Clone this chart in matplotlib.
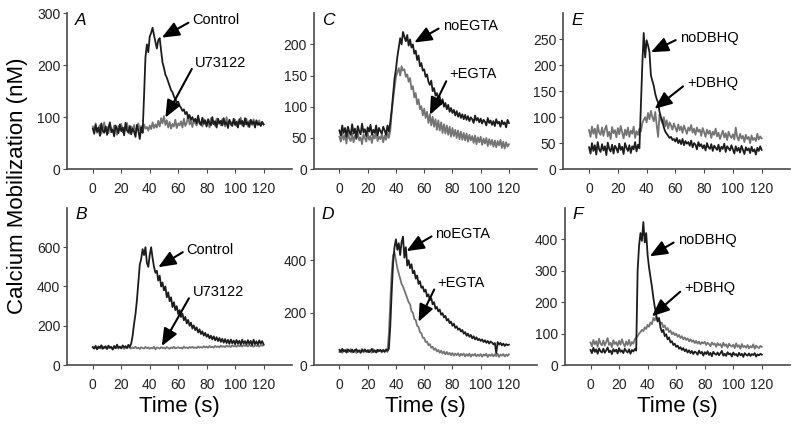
import numpy as np
import matplotlib
matplotlib.use("Agg")
import matplotlib.pyplot as plt

plt.rcParams['font.family'] = ['Liberation Sans', 'DejaVu Sans']

# time axis (s), one sample per second
t = np.arange(0, 121)

# ---- panel A ----
a_control = [78, 68, 85, 72, 80, 64, 88, 74, 70, 82,
             66, 79, 90, 71, 76, 63, 84, 77, 69, 86,
             73, 80, 65, 89, 75, 70, 83, 67, 78, 72,
             62, 85, 74, 58, 80, 70,
             140, 215, 240, 225, 255, 262, 272, 258, 245, 232, 248, 252, 228, 205,
             195, 182, 176, 168, 160, 152, 148, 140, 135, 128,
             130, 122, 118, 112, 115, 106, 110, 98, 104, 95,
             100, 92, 97, 88, 103, 90, 85, 99, 87, 94,
             82, 96, 89, 84, 100, 86, 92, 80, 97, 88,
             93, 84, 98, 86, 90, 79, 95, 88, 83, 97,
             85, 91, 80, 96, 87, 93, 82, 98, 86, 90,
             81, 95, 87, 92, 80, 94, 85, 89, 83, 91, 86]
a_u73122 = [82, 74, 88, 70, 79, 85, 68, 77, 90, 73,
            81, 69, 86, 76, 72, 84, 78, 66, 83, 75,
            87, 71, 80, 74, 89, 77, 68, 82, 76, 85,
            72, 79, 88, 75, 83, 70, 86, 78, 81, 74,
            84, 77, 90, 79, 86, 80, 93, 82, 98, 88,
            102, 85, 94, 80, 91, 78, 87, 82, 95, 79,
            88, 84, 92, 80, 97, 83, 89, 105, 86, 93,
            81, 95, 88, 84, 99, 87, 91, 82, 96, 89,
            85, 93, 80, 98, 88, 92, 83, 97, 87, 90,
            84, 96, 89, 82, 100, 86, 93, 85, 91, 88,
            95, 83, 92, 87, 99, 84, 90, 86, 97, 82,
            93, 88, 85, 96, 83, 91, 87, 94, 84, 90, 86]

# ---- panel B ----
b_control = [92, 84, 98, 80, 95, 87, 101, 83, 90, 96,
             82, 99, 88, 93, 79, 97, 86, 104, 89, 94,
             85, 100, 91, 96, 88, 103, 92, 110,
             150, 210, 260, 330, 420, 510, 540, 590, 560, 600, 520, 500,
             560, 600, 545, 500, 470, 480, 430, 455, 400, 420,
             380, 400, 345, 370, 325, 345, 295, 320, 280, 300,
             260, 280, 245, 262, 228, 245, 212, 230, 200, 216,
             186, 202, 178, 192, 166, 182, 158, 172, 150, 164,
             144, 156, 136, 150, 131, 146, 126, 142, 122, 138,
             118, 134, 114, 132, 112, 128, 108, 130, 111, 125,
             106, 128, 109, 124, 104, 129, 110, 122, 105, 127,
             108, 123, 102, 129, 107, 121, 104, 126, 109, 122, 106]
b_u73122 = [90, 85, 93, 82, 88, 91, 84, 95, 86, 89,
            83, 92, 87, 90, 81, 94, 86, 88, 84, 91,
            87, 93, 82, 89, 85, 92, 88, 84, 90, 86,
            93, 85, 89, 82, 91, 87, 84, 92, 86, 90,
            83, 88, 85, 93, 80, 90, 87, 84, 91, 86,
            89, 84, 92, 87, 83, 90, 86, 93, 85, 88,
            91, 86, 89, 84, 94, 87, 90, 85, 92, 88,
            93, 87, 90, 86, 95, 89, 92, 88, 96, 90,
            94, 88, 97, 91, 93, 89, 98, 92, 95, 90,
            99, 93, 96, 91, 100, 94, 97, 92, 101, 95,
            98, 93, 102, 96, 99, 94, 103, 97, 100, 95,
            104, 96, 99, 93, 102, 97, 100, 94, 103, 98, 101]

# ---- panel C ----
c_noegta = [62, 54, 70, 58, 66, 52, 68, 60, 55, 72,
            57, 65, 50, 69, 61, 56, 73, 59, 64, 53,
            67, 60, 71, 55, 63, 58, 70, 54, 66, 61,
            57, 68, 62, 55, 70, 60, 75,
            95, 120, 145, 160, 180, 195, 210, 200, 220, 212, 205, 215, 198,
            208, 195, 200, 185, 190, 175, 182, 165, 170, 158,
            160, 148, 152, 140, 135, 142, 125, 130, 118, 122,
            110, 116, 104, 112, 100, 106, 96, 103, 92, 98,
            90, 95, 86, 93, 84, 90, 82, 88, 80, 87,
            79, 85, 77, 83, 80, 74, 86, 78, 82, 75,
            81, 73, 79, 76, 70, 82, 74, 78, 71, 77,
            69, 80, 73, 76, 68, 78, 72, 75, 67, 79, 74]
c_egta = [52, 44, 58, 47, 55, 41, 60, 49, 45, 57,
          43, 54, 48, 59, 46, 51, 40, 56, 50, 44,
          58, 47, 53, 42, 55, 49, 61, 45, 52, 48,
          56, 43, 54, 47, 58, 50, 62,
          90, 112, 130, 148, 155, 162, 150, 165, 158, 160, 148, 152, 140,
          146, 128, 133, 115, 122, 104, 112, 96, 101, 86,
          97, 82, 92, 74, 88, 70, 84, 68, 80, 63,
          78, 62, 75, 58, 72, 57, 70, 55, 68, 52,
          66, 53, 63, 50, 62, 48, 60, 47, 58, 46,
          57, 44, 55, 46, 53, 42, 54, 40, 51, 43,
          52, 39, 49, 41, 50, 37, 48, 39, 47, 36,
          46, 35, 45, 38, 47, 34, 44, 33, 43, 36, 40]

# ---- panel D ----
d_noegta = [58, 50, 62, 52, 57, 48, 60, 54, 51, 59,
            49, 56, 61, 50, 55, 47, 58, 53, 60, 51,
            57, 49, 55, 62, 50, 56, 48, 59, 53, 58,
            52, 57, 50, 60, 55, 62,
            150, 280, 390, 450, 480, 440, 465, 420, 470, 490, 410, 450, 380, 400,
            370, 385, 350, 360, 330, 342, 310, 320, 295, 300,
            280, 288, 262, 270, 248, 255, 232, 240, 215, 222,
            205, 212, 192, 198, 182, 188, 170, 176, 160, 166,
            150, 158, 142, 148, 135, 140, 128, 134, 120, 126,
            112, 120, 108, 115, 102, 110, 98, 106, 95, 100,
            92, 98, 88, 95, 85, 92, 82, 90, 86, 79,
            84, 45, 88, 78, 85, 75, 82, 73, 80, 76, 78]
d_egta = [50, 56, 47, 58, 52, 60, 49, 55, 61, 48,
          54, 59, 46, 53, 57, 50, 62, 48, 55, 52,
          49, 58, 53, 47, 60, 51, 56, 50, 57, 54,
          48, 59, 52, 56, 50,
          120, 240, 350, 420, 430, 400, 370, 350, 330, 310, 300, 285, 270, 255, 240,
          232, 205, 200, 176, 172, 150, 146, 125, 122, 104,
          104, 88, 90, 76, 80, 66, 70, 58, 64, 52,
          58, 47, 55, 44, 52, 41, 50, 40, 47, 38,
          46, 36, 44, 38, 45, 34, 43, 37, 44, 33,
          42, 35, 44, 32, 41, 36, 43, 33, 40, 35,
          42, 32, 40, 36, 43, 31, 40, 35, 42, 33,
          41, 34, 43, 31, 40, 36, 42, 33, 40, 35, 41]

# ---- panel E ----
e_nodbhq = [42, 30, 50, 35, 46, 28, 52, 38, 33, 48,
            36, 44, 27, 51, 39, 34, 47, 30, 45, 40,
            32, 49, 37, 43, 29, 50, 41, 35, 46, 31,
            44, 38, 52, 34, 47, 40,
            120, 200, 262, 215, 248, 238, 225, 180, 170, 160, 145, 135, 128, 110,
            100, 92, 80, 72, 68, 64, 60, 62, 56, 58,
            53, 60, 50, 56, 48, 58, 46, 54, 49, 52,
            45, 55, 42, 50, 47, 38, 52, 44, 48, 40,
            46, 36, 50, 42, 39, 48, 35, 45, 41, 37,
            47, 34, 43, 39, 49, 33, 44, 40, 36, 46,
            38, 30, 44, 35, 41, 32, 45, 37, 29, 42,
            36, 40, 31, 43, 34, 38, 28, 41, 35, 44, 37]
e_dbhq = [75, 62, 82, 68, 78, 60, 85, 70, 66, 80,
          64, 77, 84, 63, 72, 58, 81, 69, 75, 61,
          79, 67, 83, 71, 59, 76, 65, 80, 62, 74,
          68, 82, 60, 73, 66, 78, 72,
          88, 95, 100, 90, 108, 96, 112, 100, 92, 110, 85, 62, 105,
          95, 88, 100, 82, 94, 78, 90, 84, 76, 88,
          80, 72, 86, 75, 82, 70, 84, 76, 68, 80,
          74, 85, 70, 78, 66, 80, 72, 76, 64, 79,
          71, 62, 76, 68, 74, 60, 72, 66, 78, 63,
          70, 58, 66, 74, 61, 69, 56, 72, 64, 60,
          67, 57, 80, 62, 55, 68, 59, 64, 52, 66,
          58, 62, 50, 65, 56, 60, 54, 68, 57, 63, 59]

# ---- panel F ----
f_nodbhq = [48, 38, 55, 42, 50, 36, 53, 44, 40, 52,
            39, 47, 56, 41, 46, 35, 51, 43, 49, 37,
            54, 42, 47, 38, 52, 45, 40, 50, 36, 48,
            43, 51, 46,
            300, 380, 420, 395, 455, 390, 420, 350, 310, 280, 250, 215, 185, 160, 140, 150, 120,
            105, 112, 92, 98, 82, 88, 72, 76, 64, 68,
            58, 62, 52, 57, 48, 54, 44, 50, 40, 47,
            38, 45, 35, 43, 40, 33, 46, 37, 42, 30,
            41, 35, 44, 32, 39, 28, 42, 36, 33, 40,
            31, 38, 45, 30, 36, 29, 41, 34, 37, 27,
            40, 32, 35, 28, 39, 31, 36, 26, 38, 33,
            30, 37, 29, 35, 32, 38, 27, 34, 31, 36, 33]
f_dbhq = [72, 60, 80, 66, 76, 58, 84, 68, 63, 78,
          62, 74, 86, 64, 71, 57, 79, 67, 73, 61,
          77, 65, 82, 69, 59, 75, 64, 80, 62, 73,
          68, 82, 88,
          92, 100, 105, 112, 108, 120, 115, 128, 122, 135, 130, 150, 142, 155, 138, 145, 130,
          135, 120, 126, 112, 118, 105, 110, 98, 104, 95,
          100, 90, 96, 86, 92, 82, 88, 80, 85, 76,
          82, 74, 79, 70, 77, 68, 75, 66, 73, 69,
          74, 64, 71, 67, 60, 72, 65, 69, 58, 70,
          63, 67, 56, 71, 61, 66, 55, 68, 62, 59,
          65, 54, 69, 58, 63, 52, 67, 57, 61, 55,
          64, 53, 60, 56, 66, 52, 62, 57, 54, 61, 58]

dark = '#1c1c1c'
grey = '#747474'
axis_col = '#4a4a4a'

# panel: letter, (dark trace, grey trace), ylim, yticks, labels (text, arrow tip, text pos)
panels = {
    'A': dict(pos=[0.084, 0.603, 0.281, 0.366], dark=a_control, grey=a_u73122,
              ylim=300, yticks=[0, 100, 200, 300],
              notes=[('Control', (48.5, 253), (70, 286)),
                     ('U73122', (51, 99), (72, 205))]),
    'B': dict(pos=[0.084, 0.143, 0.281, 0.369], dark=b_control, grey=b_u73122,
              ylim=800, yticks=[0, 200, 400, 600],
              notes=[('Control', (46, 498), (66, 587)),
                     ('U73122', (48.5, 97), (70, 371))]),
    'C': dict(pos=[0.3925, 0.603, 0.279, 0.366], dark=c_noegta, grey=c_egta,
              ylim=250, yticks=[0, 50, 100, 150, 200],
              notes=[('noEGTA', (53, 203), (73, 229)),
                     ('+EGTA', (64, 87), (78, 152))]),
    'D': dict(pos=[0.3925, 0.143, 0.279, 0.369], dark=d_noegta, grey=d_egta,
              ylim=600, yticks=[0, 200, 400],
              notes=[('noEGTA', (47.5, 435), (68, 500)),
                     ('+EGTA', (56, 165), (69.5, 315))]),
    'E': dict(pos=[0.704, 0.603, 0.284, 0.366], dark=e_nodbhq, grey=e_dbhq,
              ylim=300, yticks=[0, 50, 100, 150, 200, 250],
              notes=[('noDBHQ', (43, 225), (63, 252)),
                     ('+DBHQ', (45.5, 116), (68, 165))]),
    'F': dict(pos=[0.706, 0.143, 0.282, 0.369], dark=f_nodbhq, grey=f_dbhq,
              ylim=500, yticks=[0, 100, 200, 300, 400],
              notes=[('noDBHQ', (41.5, 346), (61, 397)),
                     ('+DBHQ', (43, 155), (65.5, 244))]),
}

fig = plt.figure(figsize=(8.0, 4.26), dpi=100)

for letter, p in panels.items():
    ax = fig.add_axes(p['pos'])
    ax.plot(t, p['grey'], color=grey, lw=1.3)
    ax.plot(t, p['dark'], color=dark, lw=1.3)

    ax.set_xlim(-18, 140)
    ax.set_ylim(0, p['ylim'])
    ax.set_xticks(range(0, 121, 20))
    ax.set_yticks(p['yticks'])

    for side in ('top', 'right'):
        ax.spines[side].set_visible(False)
    for side in ('left', 'bottom'):
        ax.spines[side].set_color(axis_col)
        ax.spines[side].set_linewidth(1.2)
    ax.tick_params(axis='x', direction='out', length=3, pad=6, labelsize=10,
                   color=axis_col, labelcolor='#222222')
    ax.tick_params(axis='y', direction='out', length=3, pad=2, labelsize=10,
                   color=axis_col, labelcolor='#222222')

    ax.text(0.035, 0.955, letter, transform=ax.transAxes, fontsize=12.5,
            fontstyle='italic', ha='left', va='center')

    for label, tip, txt in p['notes']:
        ax.annotate(label, xy=tip, xytext=txt, fontsize=10.5, ha='left', va='center',
                    arrowprops=dict(arrowstyle='-|>,head_length=1.0,head_width=0.42',
                                    color='black', lw=1.5, relpos=(0, 0.5),
                                    shrinkA=1, shrinkB=0))

    if letter in 'BDF':
        ax.set_xlabel('Time (s)', fontsize=16, labelpad=3)

fig.text(0.022, 0.563, 'Calcium Mobilization (nM)', rotation=90, fontsize=16,
         ha='center', va='center')

fig.savefig('out.png', dpi=100)
